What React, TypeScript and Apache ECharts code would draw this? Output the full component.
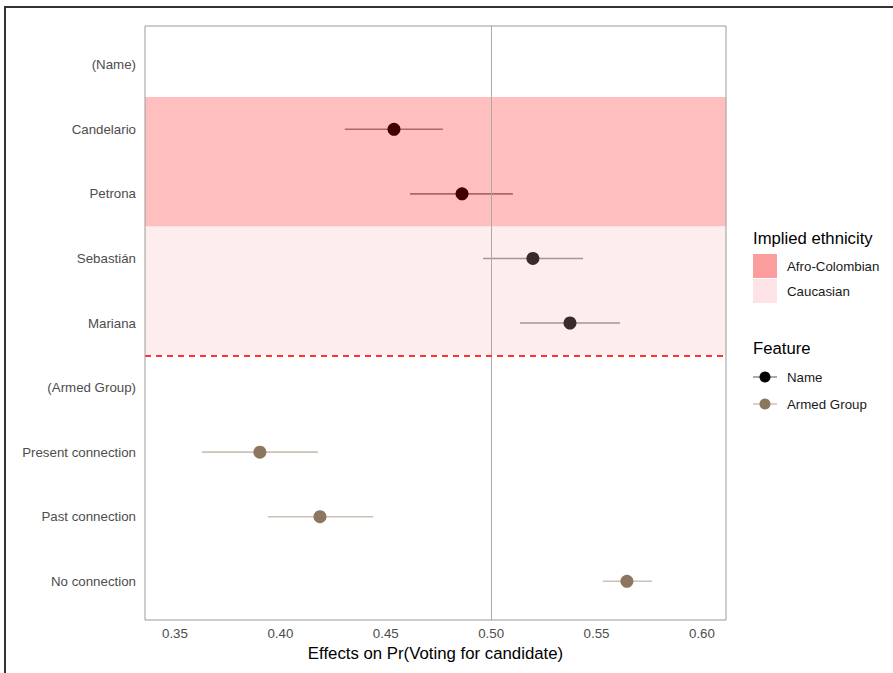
import React, { useEffect, useRef } from "react";
import * as echarts from "echarts";

const categories = [
  "(Name)",
  "Candelario",
  "Petrona",
  "Sebastián",
  "Mariana",
  "(Armed Group)",
  "Present connection",
  "Past connection",
  "No connection",
];

const nameRows = ["Candelario", "Petrona", "Sebastián", "Mariana"];
const nameEst = [0.4539, 0.4862, 0.5198, 0.5374];
const nameLo = [0.4306, 0.4615, 0.4962, 0.5137];
const nameHi = [0.4771, 0.5103, 0.5436, 0.5611];

const armedRows = ["Present connection", "Past connection", "No connection"];
const armedEst = [0.3903, 0.4188, 0.5644];
const armedLo = [0.3628, 0.3941, 0.553];
const armedHi = [0.4178, 0.444, 0.5763];

const xTicks = [0.35, 0.4, 0.45, 0.5, 0.55, 0.6];
const xMin = 0.3358;
const xMax = 0.6114;

const ethnicityNames = ["Afro-Colombian", "Caucasian"];
const ethnicityFirstRow = ["Candelario", "Sebastián"];
const ethnicityLastRow = ["Petrona", "Mariana"];
const ethnicityOverlay = ["rgba(255,0,0,0.25)", "rgba(247,179,179,0.235)"];
const ethnicitySwatch = ["#fc9d9d", "#fde3e6"];

const featureNames = ["Name", "Armed Group"];
const featureColors = ["#000000", "#8c7660"];
const featureBarColors = ["rgba(0,0,0,0.45)", "rgba(140,118,96,0.45)"];

const refX = 0.5;
const dividerAfterRow = "Mariana";

const yOf = (c: string) => categories.indexOf(c) + 1;

export default function App() {
  const ref = useRef<HTMLDivElement>(null);
  useEffect(() => {
    if (!ref.current) return;
    const chart = echarts.init(ref.current, null, { renderer: "svg" });
    const font = "'Liberation Sans', Arial, Helvetica, sans-serif";
    const small = 13.3;
    const big = 16.7;

    const errData = [
      ...nameRows.map((r, i) => [nameLo[i], nameHi[i], yOf(r), 0]),
      ...armedRows.map((r, i) => [armedLo[i], armedHi[i], yOf(r), 1]),
    ];
    const bandData = ethnicityNames.map((_, i) => [
      yOf(ethnicityFirstRow[i]) - 0.5,
      yOf(ethnicityLastRow[i]) + 0.5,
      i,
    ]);

    const legendX = 753;
    const graphic: any[] = [
      {
        type: "rect",
        shape: { x: 5, y: 7, width: 1200, height: 1200 },
        style: { fill: "none", stroke: "#333", lineWidth: 2 },
        silent: true,
      },
      {
        type: "text",
        x: legendX,
        y: 238,
        style: { text: "Implied ethnicity", fontSize: big, fontFamily: font, fill: "#000", textVerticalAlign: "middle" },
      },
      {
        type: "text",
        x: legendX,
        y: 348,
        style: { text: "Feature", fontSize: big, fontFamily: font, fill: "#000", textVerticalAlign: "middle" },
      },
    ];
    ethnicityNames.forEach((n, i) => {
      const y = 254 + i * 25;
      graphic.push({
        type: "rect",
        shape: { x: legendX, y, width: 24, height: 24 },
        style: { fill: ethnicitySwatch[i] },
      });
      graphic.push({
        type: "text",
        x: 787,
        y: y + 12.5,
        style: { text: n, fontSize: small, fontFamily: font, fill: "#1a1a1a", textVerticalAlign: "middle" },
      });
    });
    featureNames.forEach((n, i) => {
      const y = 377 + i * 27;
      graphic.push({
        type: "line",
        shape: { x1: legendX, y1: y, x2: legendX + 24, y2: y },
        style: { stroke: featureBarColors[i], lineWidth: 1.5 },
      });
      graphic.push({
        type: "circle",
        shape: { cx: legendX + 12, cy: y, r: 5.5 },
        style: { fill: featureColors[i] },
      });
      graphic.push({
        type: "text",
        x: 787,
        y,
        style: { text: n, fontSize: small, fontFamily: font, fill: "#1a1a1a", textVerticalAlign: "middle" },
      });
    });

    chart.setOption({
      animation: false,
      backgroundColor: "#fff",
      grid: {
        left: 145,
        top: 26,
        width: 581,
        height: 594,
        show: true,
        borderColor: "#9a9a9a",
        borderWidth: 1,
        backgroundColor: "transparent",
        z: 10,
      },
      xAxis: {
        type: "value",
        min: xMin,
        max: xMax,
        name: "Effects on Pr(Voting for candidate)",
        nameLocation: "middle",
        nameGap: 21,
        nameTextStyle: { fontSize: 16.8, color: "#000", fontFamily: font },
        axisLine: { show: false },
        axisTick: { show: false },
        splitLine: { show: false },
        axisLabel: {
          customValues: xTicks,
          formatter: (v: number) => v.toFixed(2),
          fontSize: small,
          color: "#4d4d4d",
          fontFamily: font,
          margin: 7,
        },
      },
      yAxis: {
        type: "value",
        min: 0.4,
        max: 9.6,
        inverse: true,
        axisLine: { show: false },
        axisTick: { show: false },
        splitLine: { show: false },
        axisLabel: {
          customValues: categories.map((_, i) => i + 1),
          formatter: (v: number) => categories[Math.round(v) - 1] ?? "",
          fontSize: small,
          color: "#4d4d4d",
          fontFamily: font,
          margin: 9,
        },
      },
      graphic,
      series: [
        {
          type: "custom",
          name: "errorbars",
          z: 1,
          silent: true,
          encode: { x: [0, 1], y: 2 },
          data: errData,
          renderItem: (params: any, api: any) => {
            const p0 = api.coord([api.value(0), api.value(2)]);
            const p1 = api.coord([api.value(1), api.value(2)]);
            return {
              type: "line",
              shape: { x1: p0[0], y1: p0[1], x2: p1[0], y2: p1[1] },
              style: { stroke: featureBarColors[api.value(3)], lineWidth: 1.6 },
            };
          },
          markLine: {
            silent: true,
            symbol: ["none", "none"],
            label: { show: false },
            lineStyle: { color: "#aaaaaa", width: 1, type: "solid" },
            data: [{ xAxis: refX }],
          },
        },
        {
          type: "scatter",
          name: featureNames[0],
          z: 2,
          symbolSize: 13,
          itemStyle: { color: featureColors[0], opacity: 1 },
          data: nameRows.map((r, i) => [nameEst[i], yOf(r)]),
        },
        {
          type: "scatter",
          name: featureNames[1],
          z: 2,
          symbolSize: 13,
          itemStyle: { color: featureColors[1], opacity: 1 },
          data: armedRows.map((r, i) => [armedEst[i], yOf(r)]),
        },
        {
          type: "custom",
          name: "bands",
          z: 3,
          silent: true,
          encode: { y: [0, 1] },
          data: bandData,
          renderItem: (params: any, api: any) => {
            const cs = params.coordSys;
            const p0 = api.coord([xMin, api.value(0)]);
            const p1 = api.coord([xMin, api.value(1)]);
            return {
              type: "rect",
              shape: { x: cs.x, y: p0[1], width: cs.width, height: p1[1] - p0[1] },
              style: { fill: ethnicityOverlay[api.value(2)] },
            };
          },
          markLine: {
            silent: true,
            symbol: ["none", "none"],
            label: { show: false },
            lineStyle: { color: "#ff3333", width: 2, type: [6, 5] },
            data: [{ yAxis: yOf(dividerAfterRow) + 0.5 }],
          },
        },
      ],
    });
    return () => chart.dispose();
  }, []);
  return (
    <div
      ref={ref}
      style={{ position: "fixed", left: 0, top: 0, width: 893, height: 673, background: "#fff" }}
    />
  );
}
